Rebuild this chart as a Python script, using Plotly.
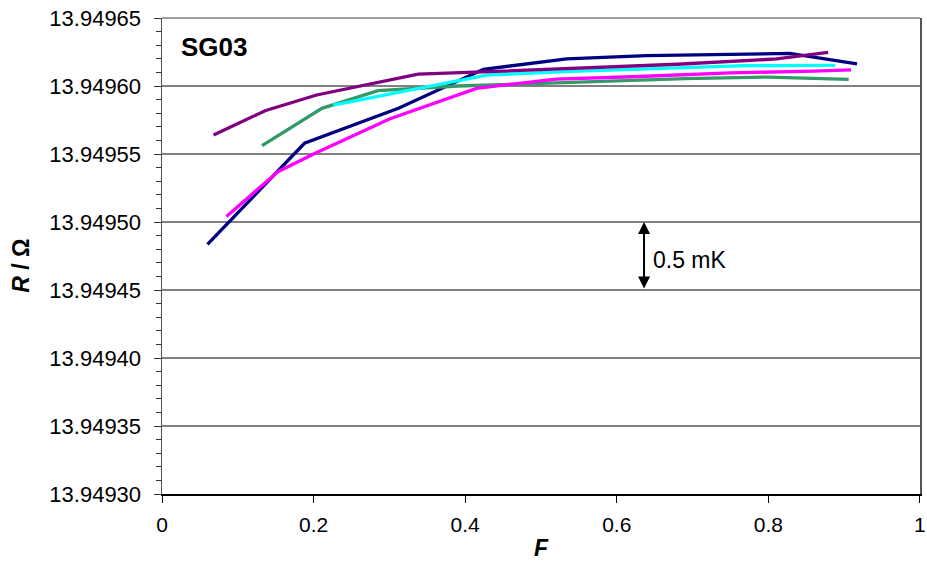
import plotly.graph_objects as go

# ---- data (F, R / ohm) ----
navy_F = [0.060, 0.188, 0.312, 0.424, 0.534, 0.639, 0.828, 0.917]
navy_R = [13.9494836, 13.9495579, 13.9495836, 13.9496123, 13.9496199, 13.9496223, 13.9496240, 13.9496162]

purple_F = [0.068, 0.136, 0.204, 0.338, 0.450, 0.560, 0.680, 0.811, 0.879]
purple_R = [13.9495640, 13.9495818, 13.9495934, 13.9496088, 13.9496110, 13.9496136, 13.9496160, 13.9496199, 13.9496248]

green_F = [0.132, 0.211, 0.285, 0.390, 0.480, 0.580, 0.690, 0.800, 0.906]
green_R = [13.9495561, 13.9495836, 13.9495966, 13.9496000, 13.9496015, 13.9496033, 13.9496055, 13.9496066, 13.9496049]

cyan_F = [0.226, 0.310, 0.430, 0.540, 0.650, 0.770, 0.888]
cyan_R = [13.9495860, 13.9495951, 13.9496081, 13.9496108, 13.9496129, 13.9496150, 13.9496152]

magenta_F = [0.085, 0.153, 0.200, 0.300, 0.415, 0.520, 0.630, 0.750, 0.860, 0.909]
magenta_R = [13.9495040, 13.9495370, 13.9495500, 13.9495757, 13.9495983, 13.9496051, 13.9496070, 13.9496096, 13.9496110, 13.9496118]

# axis ticks
y_tickvals = [13.94930, 13.94935, 13.94940, 13.94945, 13.94950, 13.94955, 13.94960, 13.94965]
y_ticktext = ["13.94930", "13.94935", "13.94940", "13.94945", "13.94950", "13.94955", "13.94960", "13.94965"]
x_tickvals = [0, 0.2, 0.4, 0.6, 0.8, 1]
x_ticktext = ["0", "0.2", "0.4", "0.6", "0.8", "1"]

# 0.5 mK scale bar
bar_F = 0.636
bar_R = [13.94950, 13.94945]
bar_label = "0.5 mK"
panel_label = "SG03"

# tiny epsilons keep the end ticks inside the range despite float rounding
y_range = [13.94930 - 1e-9, 13.94965 + 1e-8]
x_range = [0, 1.0001]

series = [
    (navy_F, navy_R, "#000080"),
    (green_F, green_R, "#339966"),
    (cyan_F, cyan_R, "#00FFFF"),
    (magenta_F, magenta_R, "#FF00FF"),
    (purple_F, purple_R, "#800080"),
]

FONT = "Liberation Sans, Arial, sans-serif"

fig = go.Figure()
for xs, ys, c in series:
    fig.add_trace(go.Scatter(x=xs, y=ys, mode="lines",
                             line=dict(color=c, width=3.3), showlegend=False,
                             hoverinfo="skip"))

fig.update_layout(
    width=927, height=572,
    margin=dict(l=162, r=7, t=18, b=78, autoexpand=False),
    paper_bgcolor="white", plot_bgcolor="white",
    font=dict(family=FONT, size=20, color="black"),
    showlegend=False,
)

fig.update_xaxes(
    range=x_range, tickmode="array", tickvals=x_tickvals, ticktext=x_ticktext,
    showgrid=False, zeroline=False, automargin=False,
    showline=True, linecolor="black", linewidth=1.5,
    ticks="outside", ticklen=7, tickcolor="black", tickwidth=1,
    tickfont=dict(size=21, family=FONT),
    ticklabelstandoff=4, ticklabeloverflow="allow",
)
fig.update_yaxes(
    range=y_range, tickmode="array", tickvals=y_tickvals, ticktext=y_ticktext,
    showgrid=True, gridcolor="#808080", gridwidth=1.5,
    zeroline=False, automargin=False,
    showline=True, linecolor="#555555", linewidth=1.5, mirror=True,
    ticks="outside", ticklen=7, tickcolor="#333333", tickwidth=1,
    minor=dict(tickmode="linear", tick0=13.94930, dtick=0.00001, ticks="outside",
               ticklen=5, tickcolor="#333333", showgrid=False),
    tickfont=dict(size=22, family=FONT),
    ticklabelstandoff=8, ticklabeloverflow="allow",
)

# top border (coincides with top gridline)
fig.add_shape(type="line", xref="paper", yref="paper", x0=0, x1=1, y0=1, y1=1,
              line=dict(color="#808080", width=1.5), layer="below")

# scale bar arrow
fig.add_annotation(x=bar_F, y=bar_R[0], ax=bar_F, ay=bar_R[1],
                   xref="x", yref="y", axref="x", ayref="y",
                   text="", showarrow=True, arrowside="end+start",
                   arrowhead=2, arrowsize=1.2, arrowwidth=2, arrowcolor="black")
fig.add_annotation(x=bar_F + 0.009, y=(bar_R[0] + bar_R[1]) / 2 - 0.000003,
                   xref="x", yref="y", text=bar_label, showarrow=False,
                   xanchor="left", yanchor="middle",
                   font=dict(size=23, family=FONT, color="black"))

# panel label
fig.add_annotation(x=0.022, y=0.939, xref="paper", yref="paper",
                   text="<b>" + panel_label + "</b>", showarrow=False,
                   xanchor="left", yanchor="middle",
                   font=dict(size=26, family=FONT, color="black"))

# axis titles
fig.add_annotation(x=0.5, y=-0.113, xref="paper", yref="paper",
                   text="<b><i>F</i></b>", showarrow=False,
                   xanchor="center", yanchor="middle",
                   font=dict(size=23, family=FONT, color="black"))
fig.add_annotation(x=-0.187, y=0.48, xref="paper", yref="paper",
                   text="<b><i>R</i> / Ω</b>", showarrow=False, textangle=-90,
                   xanchor="center", yanchor="middle",
                   font=dict(size=23, family=FONT, color="black"))

# remove the default 8px page margin so the figure fills the window exactly
fig.write_html("out.html",
               config={"displayModeBar": False, "staticPlot": True},
               post_script="document.body.style.margin='0';document.body.style.overflow='hidden';")
